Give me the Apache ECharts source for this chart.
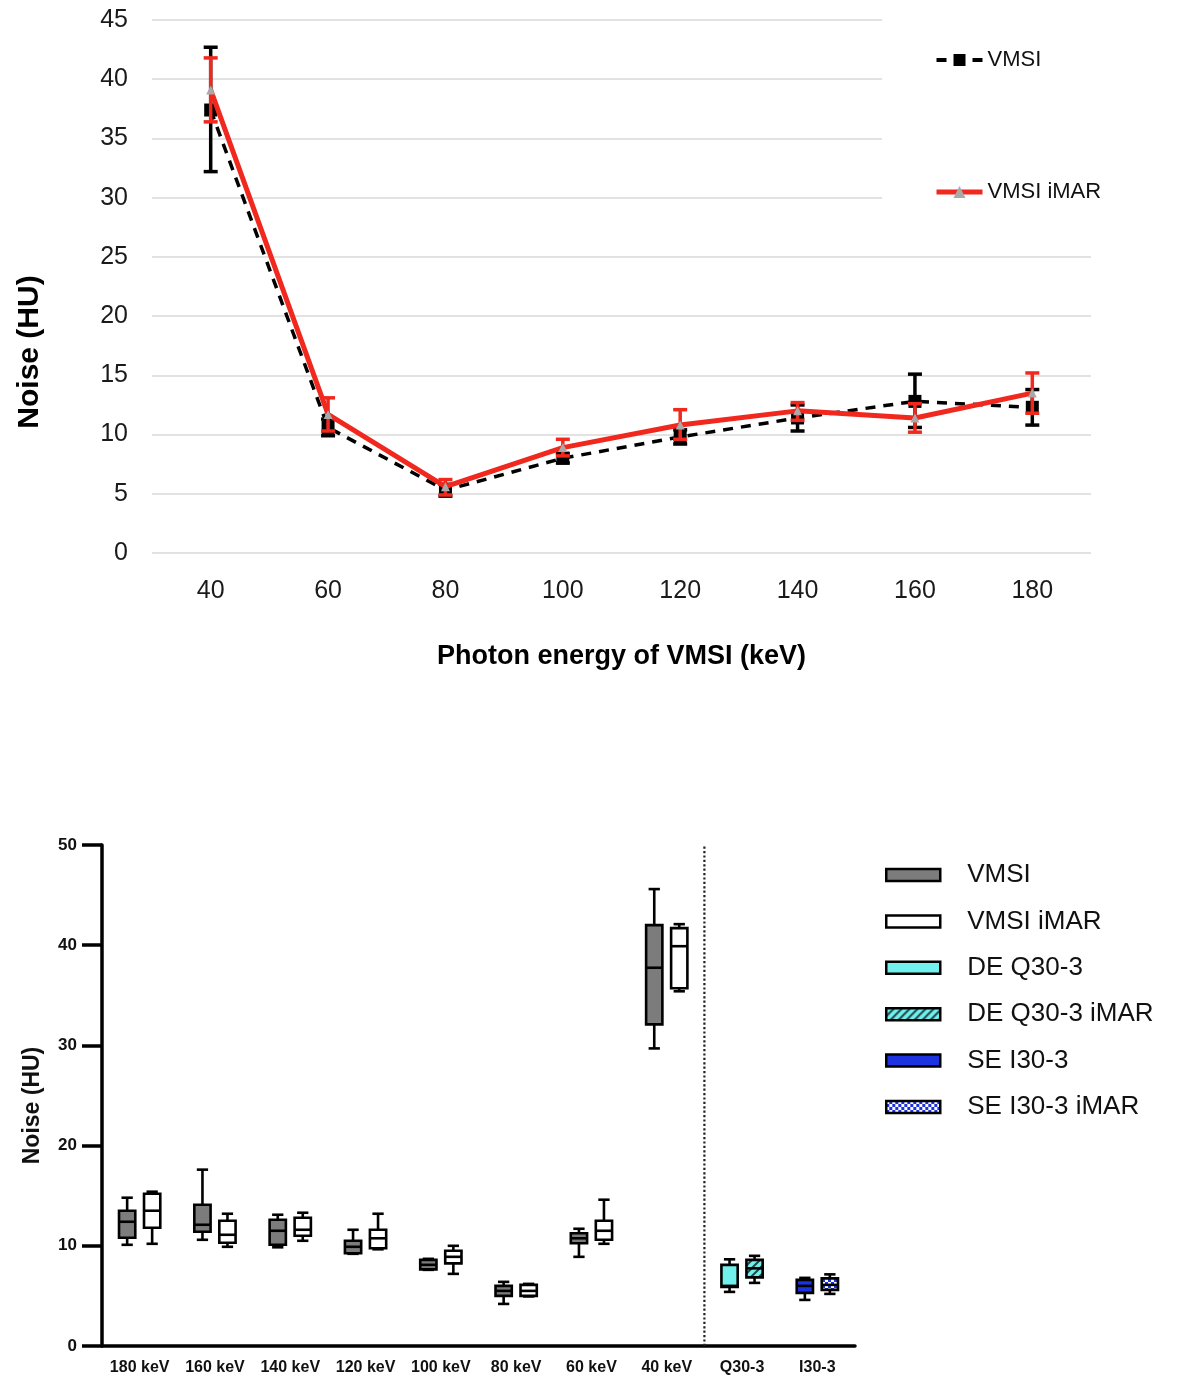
<!DOCTYPE html>
<html>
<head>
<meta charset="utf-8">
<script src="https://cdn.jsdelivr.net/npm/echarts@6/dist/echarts.min.js"></script>
<style>
  html, body { margin: 0; padding: 0; background: #fff; }
  #lineChart { width: 1180px; height: 700px; }
  #boxChart { width: 1180px; height: 680px; }
</style>
</head>
<body>
<div id="lineChart"></div>
<div id="boxChart"></div>
<script>
// ---------- Noise vs. photon energy (mean with error bars) ----------
const energies = ['40', '60', '80', '100', '120', '140', '160', '180'];
const vmsiMean = [37.4, 10.6, 5.3, 8.0, 9.8, 11.4, 12.8, 12.3];
const vmsiLow  = [32.2, 9.9, 4.8, 7.6, 9.2, 10.3, 10.6, 10.8];
const vmsiHigh = [42.7, 11.3, 5.8, 8.4, 10.4, 12.5, 15.1, 13.8];
const imarMean = [39.1, 11.7, 5.6, 8.9, 10.8, 12.0, 11.4, 13.5];
const imarLow  = [36.4, 10.3, 4.9, 8.2, 9.6, 11.2, 10.2, 11.8];
const imarHigh = [41.8, 13.1, 6.2, 9.6, 12.1, 12.7, 12.6, 15.2];
const noiseTicks = { min: 0, max: 45, interval: 5 };

// ---------- Noise distributions (box plots) ----------
const boxCategories = ['180 keV', '160 keV', '140 keV', '120 keV', '100 keV', '80 keV', '60 keV', '40 keV', 'Q30-3', 'I30-3'];
const kevCategories = boxCategories.slice(0, 8);
// each entry: [min, Q1, median, Q3, max]
const vmsiBox = [
  [10.1, 10.8, 12.4, 13.5, 14.8],
  [10.6, 11.4, 12.1, 14.1, 17.6],
  [9.85, 10.1, 11.5, 12.6, 13.1],
  [9.2, 9.25, 9.9, 10.5, 11.6],
  [7.6, 7.65, 8.1, 8.6, 8.7],
  [4.2, 5.0, 5.5, 6.0, 6.4],
  [8.9, 10.25, 10.75, 11.25, 11.7],
  [29.7, 32.1, 37.75, 42.0, 45.6]
];
const vmsiImarBox = [
  [10.2, 11.8, 13.5, 15.2, 15.4],
  [9.9, 10.3, 11.1, 12.5, 13.2],
  [10.5, 11.0, 11.6, 12.8, 13.3],
  [9.65, 9.75, 10.75, 11.6, 13.2],
  [7.2, 8.25, 8.9, 9.5, 10.0],
  [4.95, 5.0, 5.5, 6.1, 6.2],
  [10.2, 10.6, 11.5, 12.5, 14.6],
  [35.4, 35.7, 39.9, 41.7, 42.1]
];
const deQ30Box = [5.4, 5.9, 6.0, 8.1, 8.65];
const deQ30ImarBox = [6.3, 6.85, 7.75, 8.6, 9.0];
const seI30Box = [4.6, 5.3, 6.0, 6.6, 6.8];
const seI30ImarBox = [5.2, 5.6, 6.1, 6.75, 7.15];
const boxTicks = { min: 0, max: 50, interval: 10 };

// ---------- fill textures ----------
function makeHatch() {
  const c = document.createElement('canvas');
  c.width = 8; c.height = 8;
  const g = c.getContext('2d');
  g.fillStyle = '#72f0ee';
  g.fillRect(0, 0, 8, 8);
  g.strokeStyle = '#1d4a4a';
  g.lineWidth = 2;
  g.beginPath();
  g.moveTo(-2, 10); g.lineTo(10, -2);
  g.moveTo(-6, 6); g.lineTo(6, -6);
  g.moveTo(2, 14); g.lineTo(14, 2);
  g.stroke();
  return { image: c, repeat: 'repeat' };
}
function makeChecker() {
  const c = document.createElement('canvas');
  c.width = 6; c.height = 6;
  const g = c.getContext('2d');
  g.fillStyle = '#1d33e0';
  g.fillRect(0, 0, 6, 6);
  g.fillStyle = '#ffffff';
  g.fillRect(0, 0, 3, 3);
  g.fillRect(3, 3, 3, 3);
  return { image: c, repeat: 'repeat' };
}
const hatchFill = makeHatch();
const checkerFill = makeChecker();

// ---------- line chart ----------
function errorBarRenderer(color, width) {
  return function (params, api) {
    const i = api.value(0);
    const lo = api.coord([i, api.value(1)]);
    const hi = api.coord([i, api.value(2)]);
    const cap = 7;
    const st = { stroke: color, lineWidth: width };
    return {
      type: 'group',
      children: [
        { type: 'line', shape: { x1: lo[0], y1: lo[1], x2: hi[0], y2: hi[1] }, style: st },
        { type: 'line', shape: { x1: hi[0] - cap, y1: hi[1], x2: hi[0] + cap, y2: hi[1] }, style: st },
        { type: 'line', shape: { x1: lo[0] - cap, y1: lo[1], x2: lo[0] + cap, y2: lo[1] }, style: st }
      ]
    };
  };
}

const lineChart = echarts.init(document.getElementById('lineChart'));
lineChart.setOption({
  animation: false,
  backgroundColor: '#fff',
  grid: { left: 152, right: 89, top: 20, bottom: 147 },
  legend: {
    orient: 'vertical',
    left: 929,
    top: 44,
    itemGap: 110,
    itemWidth: 46,
    itemHeight: 15,
    selectedMode: false,
    data: [
      { name: 'VMSI', lineStyle: { width: 4 } },
      { name: 'VMSI iMAR', lineStyle: { width: 5 } }
    ],
    textStyle: { fontFamily: 'Liberation Sans', fontSize: 22, color: '#111', lineHeight: 22 }
  },
  graphic: [
    { type: 'rect', z: 3, shape: { x: 882, y: 6, width: 300, height: 224 }, style: { fill: '#fff' } },
    {
      type: 'text', z: 3, x: 30, y: 352, rotation: Math.PI / 2,
      style: { text: 'Noise (HU)', align: 'center', verticalAlign: 'middle',
               font: 'bold 30px "Liberation Sans", Arial, sans-serif', fill: '#000' }
    }
  ],
  xAxis: {
    type: 'category',
    data: energies,
    boundaryGap: true,
    axisLine: { show: false },
    axisTick: { show: false },
    axisLabel: { fontFamily: 'Liberation Sans', fontSize: 25, color: '#1a1a1a', margin: 26 },
    name: 'Photon energy of VMSI (keV)',
    nameLocation: 'middle',
    nameGap: 90,
    nameTextStyle: { fontFamily: 'Liberation Sans', fontWeight: 'bold', fontSize: 27, color: '#000' }
  },
  yAxis: {
    type: 'value',
    min: noiseTicks.min,
    max: noiseTicks.max,
    interval: noiseTicks.interval,
    axisLine: { show: false },
    axisTick: { show: false },
    axisLabel: { fontFamily: 'Liberation Sans', fontSize: 25, color: '#1a1a1a', margin: 24 },
    splitLine: { lineStyle: { color: '#d9d9d9', width: 1.5 } }
  },
  series: [
    {
      name: 'VMSI error', type: 'custom', z: 2,
      renderItem: errorBarRenderer('#000', 3.5),
      data: energies.map((e, i) => [i, vmsiLow[i], vmsiHigh[i]]),
      encode: { x: 0, y: [1, 2] }
    },
    {
      name: 'VMSI', type: 'line', z: 3,
      data: vmsiMean,
      symbol: 'rect', symbolSize: 13,
      itemStyle: { color: '#000' },
      lineStyle: { color: '#000', width: 3.5, type: [10, 8] }
    },
    {
      name: 'VMSI iMAR error', type: 'custom', z: 4,
      renderItem: errorBarRenderer('#f0281e', 3.5),
      data: energies.map((e, i) => [i, imarLow[i], imarHigh[i]]),
      encode: { x: 0, y: [1, 2] }
    },
    {
      name: 'VMSI iMAR', type: 'line', z: 5,
      data: imarMean,
      symbol: 'triangle', symbolSize: 9,
      itemStyle: { color: '#a9a9a9' },
      lineStyle: { color: '#f0281e', width: 5 }
    }
  ]
});

// ---------- box chart ----------
function boxRenderer(side, fill) {
  return function (params, api) {
    const i = api.value(0);
    const band = api.size([1, 0])[0];
    const cx = api.coord([i, 0])[0] + side * band * 0.166;
    const half = band * 0.108;
    const cap = band * 0.075;
    const y = k => api.coord([i, api.value(k)])[1];
    const yMin = y(1), yQ1 = y(2), yMed = y(3), yQ3 = y(4), yMax = y(5);
    const st = { stroke: '#000', lineWidth: 2.6 };
    return {
      type: 'group',
      children: [
        { type: 'line', shape: { x1: cx, y1: yMax, x2: cx, y2: yQ3 }, style: st },
        { type: 'line', shape: { x1: cx, y1: yQ1, x2: cx, y2: yMin }, style: st },
        { type: 'line', shape: { x1: cx - cap, y1: yMax, x2: cx + cap, y2: yMax }, style: st },
        { type: 'line', shape: { x1: cx - cap, y1: yMin, x2: cx + cap, y2: yMin }, style: st },
        { type: 'rect', shape: { x: cx - half, y: yQ3, width: 2 * half, height: yQ1 - yQ3 },
          style: { fill: fill, stroke: '#000', lineWidth: 2.6 } },
        { type: 'line', shape: { x1: cx - half, y1: yMed, x2: cx + half, y2: yMed }, style: st }
      ]
    };
  };
}
function boxSeries(name, side, fill, cats, rows) {
  return {
    name: name,
    type: 'custom',
    renderItem: boxRenderer(side, fill),
    itemStyle: { color: fill, borderColor: '#000', borderWidth: 2 },
    data: rows.map((r, k) => [cats[k]].concat(r)),
    encode: { x: 0, y: [1, 2, 3, 4, 5] },
    z: 3
  };
}

const boxChart = echarts.init(document.getElementById('boxChart'));
boxChart.setOption({
  animation: false,
  backgroundColor: '#fff',
  grid: { left: 102, right: 325, top: 145, bottom: 34 },
  legend: {
    orient: 'vertical',
    left: 880,
    top: 157,
    itemGap: 20.4,
    itemWidth: 54,
    itemHeight: 12,
    icon: 'rect',
    selectedMode: false,
    itemStyle: { borderColor: '#000', borderWidth: 2.5 },
    data: ['VMSI', 'VMSI iMAR', 'DE Q30-3', 'DE Q30-3 iMAR', 'SE I30-3', 'SE I30-3 iMAR'],
    textStyle: { fontFamily: 'Liberation Sans', fontSize: 26, lineHeight: 26, color: '#111', padding: [0, 0, 0, 22] }
  },
  xAxis: {
    type: 'category',
    data: boxCategories,
    boundaryGap: true,
    axisLine: { lineStyle: { color: '#000', width: 3.5 } },
    axisTick: { show: false },
    axisLabel: { fontFamily: 'Liberation Sans', fontWeight: 'bold', fontSize: 16, color: '#111', margin: 14, interval: 0 }
  },
  yAxis: {
    type: 'value',
    min: boxTicks.min,
    max: boxTicks.max,
    interval: boxTicks.interval,
    axisLine: { show: true, lineStyle: { color: '#000', width: 3.5 } },
    axisTick: { show: true, length: 20, lineStyle: { color: '#000', width: 3.5 } },
    axisLabel: { fontFamily: 'Liberation Sans', fontWeight: 'bold', fontSize: 17, color: '#111', margin: 25 },
    splitLine: { show: false },
    name: 'Noise (HU)',
    nameLocation: 'middle',
    nameGap: 58,
    nameTextStyle: { fontFamily: 'Liberation Sans', fontWeight: 'bold', fontSize: 23, color: '#111', padding: [0, 20, 0, 0] }
  },
  series: [
    boxSeries('VMSI', -1, '#7c7c7c', kevCategories, vmsiBox),
    boxSeries('VMSI iMAR', 1, '#ffffff', kevCategories, vmsiImarBox),
    boxSeries('DE Q30-3', -1, '#72f0ee', ['Q30-3'], [deQ30Box]),
    boxSeries('DE Q30-3 iMAR', 1, hatchFill, ['Q30-3'], [deQ30ImarBox]),
    boxSeries('SE I30-3', -1, '#1d33e0', ['I30-3'], [seI30Box]),
    boxSeries('SE I30-3 iMAR', 1, checkerFill, ['I30-3'], [seI30ImarBox]),
    {
      // dotted divider between the VMSI energies and the reference kernels
      name: 'divider',
      type: 'custom',
      z: 2,
      renderItem: function (params, api) {
        const i = api.value(0);
        const band = api.size([1, 0])[0];
        const x = api.coord([i, 0])[0] - band / 2;
        const y0 = api.coord([i, boxTicks.min])[1];
        const y1 = api.coord([i, boxTicks.max])[1];
        return { type: 'line', shape: { x1: x, y1: y0, x2: x, y2: y1 },
                 style: { stroke: '#222', lineWidth: 2.2, lineDash: [2.2, 2.2] } };
      },
      data: [['Q30-3', boxTicks.max]],
      encode: { x: 0, y: 1 }
    }
  ]
});
</script>
</body>
</html>
